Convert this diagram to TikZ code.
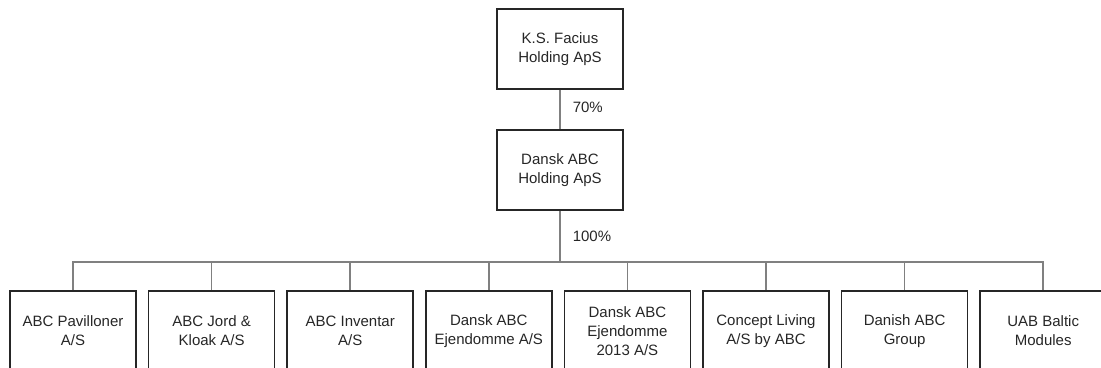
\documentclass[tikz,border=0pt]{standalone}
\usepackage{fontspec}
\setmainfont{Liberation Sans}
\usetikzlibrary{positioning}

\begin{document}
\begin{tikzpicture}[x=1pt,y=-1pt,node distance=39.5pt and 11.1pt,
  company/.style={rectangle,draw=black!85,line width=1.5pt,minimum width=126pt,minimum height=80pt,
    align=center,inner sep=2pt,text=black!85,font=\fontsize{15}{19}\selectfont},
  link/.style={draw=black!50,line width=1.5pt},
  share/.style={right,inner sep=12pt,text=black!85,font=\fontsize{15}{19}\selectfont}]

  \useasboundingbox (0,0) rectangle (1101,367);
  \clip (0,0) rectangle (1101,367);

  \node[company] (facius) at (560,49) {K.S. Facius\\Holding ApS};
  \node[company] (holding) [below=of facius] {Dansk ABC\\Holding ApS};

  \node[company] (c1) at (73,331) {ABC Pavilloner\\A/S};
  \node[company] (c2) [right=of c1] {ABC Jord \&\\Kloak A/S};
  \node[company] (c3) [right=of c2] {ABC Inventar\\A/S};
  \node[company] (c4) [right=of c3] {Dansk ABC\\Ejendomme A/S};
  \node[company] (c5) [right=of c4] {Dansk ABC\\Ejendomme\\2013 A/S};
  \node[company] (c6) [right=of c5] {Concept Living\\A/S by ABC};
  \node[company] (c7) [right=of c6] {Danish ABC\\Group};
  \node[company] (c8) [right=of c7] {UAB Baltic\\Modules};

  \path (holding.south) ++(0,51) coordinate (bus);

  \draw[link] (facius) -- node[share,pos=.45] {70\%} (holding);
  \draw[link] (holding) -- node[share] {100\%} (bus);
  \foreach \i in {1,...,8}
    \draw[link] (bus) -| (c\i);

\end{tikzpicture}
\end{document}
